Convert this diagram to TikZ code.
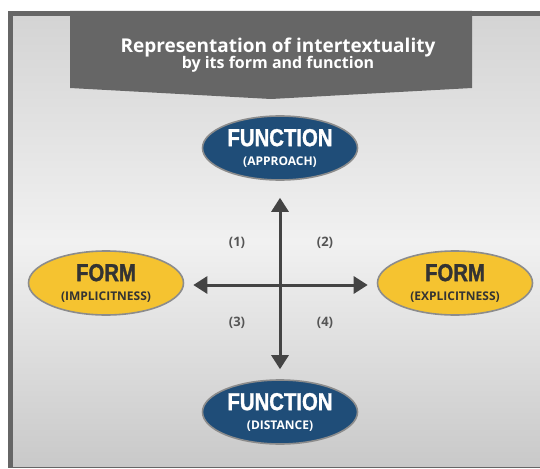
\documentclass[tikz,border=0pt]{standalone}
\usepackage{fontspec}
\setmainfont{Open Sans}
\newfontfamily\condfont[FakeStretch=0.83,FakeBold=1.2]{Liberation Sans}
\usetikzlibrary{arrows.meta,shapes.geometric,positioning}

\definecolor{bandgray}{HTML}{666666}
\definecolor{bgtop}{HTML}{D4D4D4}
\definecolor{bgmid}{HTML}{F1F1F1}
\definecolor{bgbot}{HTML}{C9C9C9}
\definecolor{funcblue}{HTML}{1F4D78}
\definecolor{formyellow}{HTML}{F5C330}
\definecolor{rimgray}{HTML}{8C8C8C}
\definecolor{arrowgray}{HTML}{444444}
\definecolor{numgray}{HTML}{555555}

\newcommand{\ovaltext}[2]{{\condfont\bfseries\fontsize{24.5}{24}\selectfont #1}\\
  {\bfseries\fontsize{12}{19}\selectfont #2}}

\begin{document}
\begin{tikzpicture}[x=1pt,y=-1pt,>={Triangle[length=14pt,width=17pt]},
                    line width=3pt]
\tikzstyle{every node}=[inner sep=0pt,align=center]
\tikzstyle{oval}=[ellipse,draw=rimgray,line width=1.6pt,minimum width=155pt,
                  minimum height=64pt,font=\fontsize{12}{19}\selectfont]
\tikzstyle{func}=[oval,fill=funcblue,text=white]
\tikzstyle{form}=[oval,fill=formyellow,text=black!80]
\tikzstyle{quad}=[text=numgray,font=\bfseries\fontsize{13}{14}\selectfont]
\useasboundingbox (0,0) rectangle (540,468);
% frame and background
\fill[bandgray] (8,11) rectangle (540,468);
\shade[top color=bgtop,bottom color=bgbot,middle color=bgmid]
      (13,17) rectangle (540,466);
\fill[bandgray] (70,11) -- (472,11) -- (472,88) -- (271,99) -- (70,88) -- cycle;
\node[text=white,font=\bfseries\fontsize{19}{20}\selectfont,anchor=base] (title)
      at (278,53) {Representation of intertextuality};
\node[text=white,font=\bfseries\fontsize{16}{17}\selectfont,anchor=base]
      (subtitle) at (278,69) {by its form and function};

\coordinate (c) at (280,285);
\node[func] (fa) at (280,148) {\ovaltext{FUNCTION}{(APPROACH)}};
\node[func] (fd) at (280,412) {\ovaltext{FUNCTION}{(DISTANCE)}};
\node[form] (fi) at (106,283) {\ovaltext{FORM}{(IMPLICITNESS)}};
\node[form] (fe) at (455,283) {\ovaltext{FORM}{(EXPLICITNESS)}};

\draw[<->,arrowgray,shorten <=17pt,shorten >=10pt] (fa) -- (fd);
\draw[<->,arrowgray,shorten <=9pt,shorten >=9pt] (fi.east |- c) -- (fe.west |- c);

\node[quad] (q1) at (237,243) {(1)};
\node[quad] (q2) at (325,243) {(2)};
\node[quad] (q3) at (237,323) {(3)};
\node[quad] (q4) at (325,323) {(4)};
\end{tikzpicture}
\end{document}
